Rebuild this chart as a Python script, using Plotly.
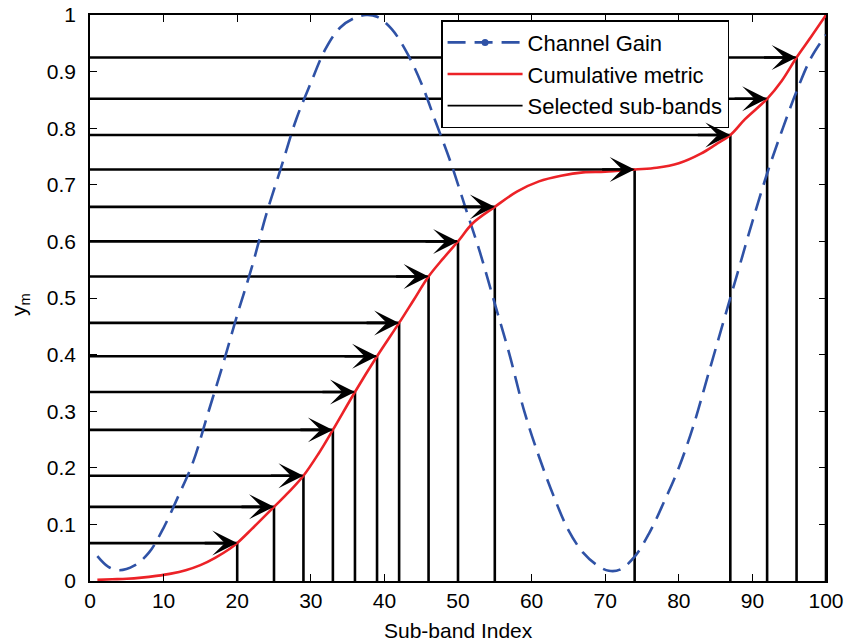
import plotly.graph_objects as go

# Channel gain per sub-band (dashed blue)
gain_x = [1, 2.5, 4, 6, 8, 10, 12, 14, 16, 18, 20, 22, 24, 26, 28, 30, 32, 34, 36,
          37.5, 39, 41, 43, 45, 47, 49, 51, 53, 55, 57, 59, 61, 63, 65, 67, 69, 70.5,
          72, 74, 76, 78, 80, 82, 84, 86, 88, 90, 92, 94, 96, 98, 100]
gain_y = [0.044, 0.025, 0.019, 0.027, 0.050, 0.094, 0.150, 0.210, 0.295, 0.380,
          0.470, 0.555, 0.650, 0.732, 0.815, 0.880, 0.940, 0.978, 0.995, 1.0, 0.997,
          0.975, 0.935, 0.880, 0.810, 0.740, 0.660, 0.580, 0.490, 0.400, 0.300, 0.220,
          0.150, 0.090, 0.050, 0.027, 0.018, 0.020, 0.043, 0.085, 0.140, 0.200, 0.275,
          0.365, 0.455, 0.545, 0.635, 0.720, 0.795, 0.865, 0.925, 0.965]

# Cumulative metric (solid red)
cum_x = [1, 3, 5, 7, 9, 11, 13, 15, 17, 19, 20, 22, 25, 27, 29, 31, 33, 36, 39, 42,
         44, 46, 48, 50, 52, 55, 58, 61, 64, 67, 70, 74, 77, 80, 83, 85, 87, 89, 92,
         94, 96, 98, 100]
cum_y = [0.002, 0.003, 0.004, 0.006, 0.009, 0.013, 0.019, 0.028, 0.041, 0.057,
         0.067, 0.092, 0.131, 0.157, 0.186, 0.224, 0.267, 0.334, 0.397, 0.456, 0.497,
         0.538, 0.570, 0.600, 0.632, 0.661, 0.688, 0.706, 0.716, 0.722, 0.723, 0.727,
         0.730, 0.738, 0.755, 0.771, 0.788, 0.816, 0.852, 0.884, 0.925, 0.962, 1.0]

# Selected sub-band indices
selected = [20, 25, 29, 33, 36, 39, 42, 46, 50, 55, 74, 87, 92, 96, 100]

x_ticks = list(range(0, 101, 10))
y_ticks = [round(0.1 * k, 1) for k in range(11)]

FONT = "Liberation Sans, Arial, sans-serif"
BLUE = "#2f52a6"
RED = "#ec2227"

W, H = 848, 642
L, R, T, B = 90, 22, 15, 61
pw, ph = W - L - R, H - T - B

lookup = dict(zip(cum_x, cum_y))
sel_y = [lookup[s] for s in selected]

fig = go.Figure()

# vertical stems for selected sub-bands
vx, vy = [], []
for s, v in zip(selected, sel_y):
    vx += [s, s, None]
    vy += [0, v, None]
fig.add_trace(go.Scatter(x=vx, y=vy, mode="lines", line=dict(color="black", width=2.6),
                         showlegend=False, hoverinfo="skip"))

# horizontal arrow shafts from the y-axis to each selected point (last one sits on the frame)
hx, hy = [], []
for s, v in zip(selected[:-1], sel_y[:-1]):
    hx += [0, s, None]
    hy += [v, v, None]
fig.add_trace(go.Scatter(x=hx, y=hy, mode="lines", line=dict(color="black", width=2.6),
                         showlegend=False, hoverinfo="skip"))

fig.add_trace(go.Scatter(x=gain_x, y=gain_y, mode="lines", line_shape="spline",
                         line=dict(color=BLUE, width=2.6, dash="18px,9px"),
                         showlegend=False, hoverinfo="skip"))
fig.add_trace(go.Scatter(x=cum_x, y=cum_y, mode="lines", line_shape="spline",
                         line=dict(color=RED, width=2.6), showlegend=False,
                         hoverinfo="skip"))

# legend entries
fig.add_trace(go.Scatter(x=[None], y=[None], mode="lines+markers", name="Channel Gain",
                         line=dict(color=BLUE, width=2.6, dash="18px,9px"),
                         marker=dict(color=BLUE, size=7)))
fig.add_trace(go.Scatter(x=[None], y=[None], mode="lines", name="Cumulative metric",
                         line=dict(color=RED, width=2.6)))
fig.add_trace(go.Scatter(x=[None], y=[None], mode="lines", name="Selected sub-bands",
                         line=dict(color="black", width=1.6)))

# arrow heads
for s, v in zip(selected[:-1], sel_y[:-1]):
    fig.add_annotation(x=s, y=v, ax=-34, ay=0, axref="pixel", ayref="pixel",
                       xref="x", yref="y", text="", showarrow=True, arrowhead=3,
                       arrowsize=1.6, arrowwidth=2.6, arrowcolor="black", standoff=0)

# axis titles
fig.add_annotation(text="Sub-band Index", xref="paper", yref="paper",
                   x=(458 - L) / pw, y=1 - (630 - T) / ph,
                   xanchor="center", yanchor="middle", showarrow=False,
                   font=dict(family=FONT, size=21, color="black"))
fig.add_annotation(text="y<sub>m</sub>", xref="paper", yref="paper",
                   x=(20 - L) / pw, y=1 - (305 - T) / ph, textangle=-90,
                   xanchor="center", yanchor="middle", showarrow=False,
                   font=dict(family=FONT, size=21, color="black"))

axis_common = dict(showline=True, linecolor="black", linewidth=1.5, mirror="allticks",
                   ticks="inside", ticklen=7, tickwidth=1.2, tickcolor="black",
                   showgrid=False, zeroline=False, automargin=False,
                   tickfont=dict(family=FONT, size=21, color="black"))

fig.update_layout(
    width=W, height=H,
    margin=dict(l=L, r=R, t=T, b=B),
    paper_bgcolor="white", plot_bgcolor="white",
    font=dict(family=FONT, size=21, color="black"),
    xaxis=dict(range=[0, 100], tickvals=x_ticks, ticklabelstandoff=0, **axis_common),
    yaxis=dict(range=[0, 1], tickvals=y_ticks, ticklabelstandoff=8, **axis_common),
    legend=dict(x=0.477, y=0.991, xanchor="left", yanchor="top",
                bgcolor="white", bordercolor="black", borderwidth=1.5,
                font=dict(family=FONT, size=22), itemwidth=75,
                tracegroupgap=0),
    showlegend=True,
)

fig.write_html("out.html")
